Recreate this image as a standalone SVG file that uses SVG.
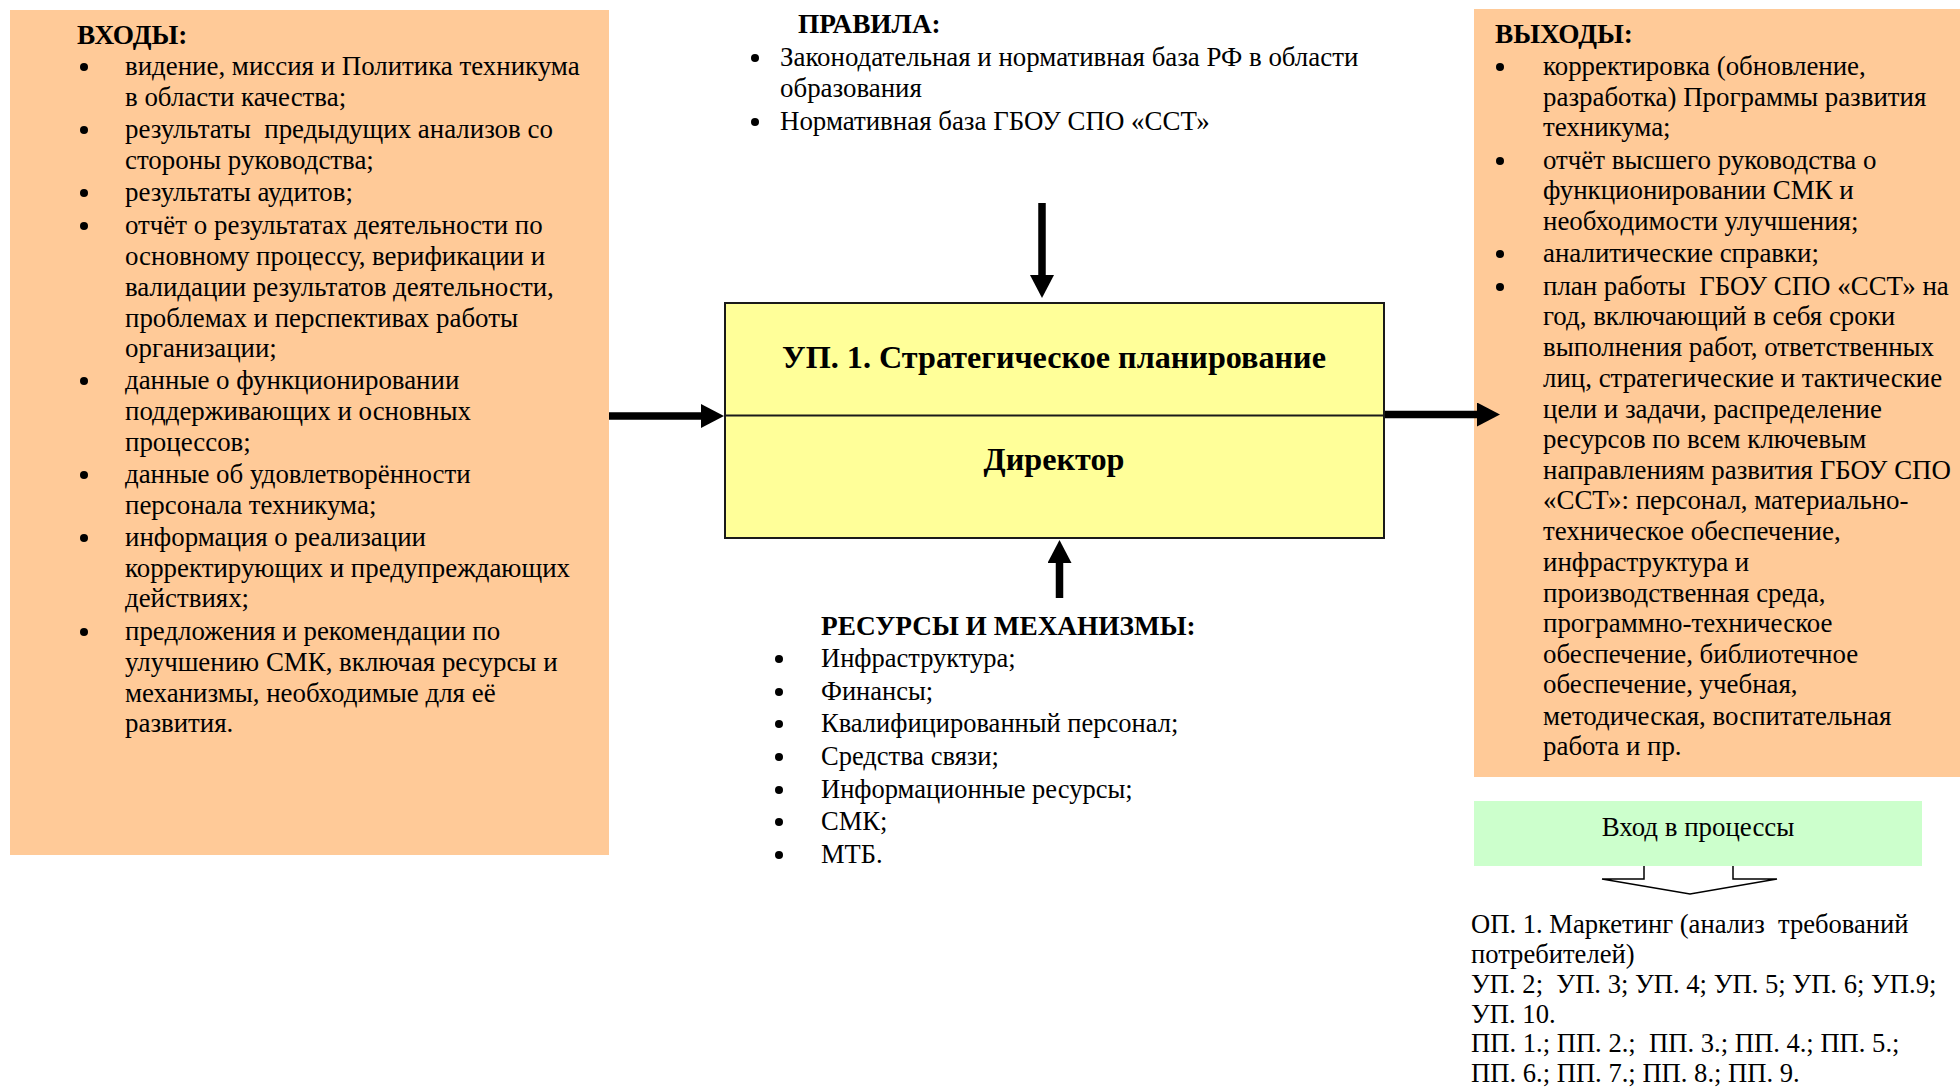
<svg xmlns="http://www.w3.org/2000/svg" width="1960" height="1087" viewBox="0 0 1960 1087">
  <style>
    text { font-family: "Liberation Serif", "Times New Roman", serif; font-size: 26.9px; fill: #000; white-space: pre; }
    .hdr { font-weight: bold; font-size: 27.3px; }
    .title { font-weight: bold; font-size: 32.2px; text-anchor: middle; }
    .res { font-size: 26.5px; }
    .tgt { font-size: 26.6px; }
    .peach { fill: #FFCA98; }
    .proc { fill: #FFFF99; stroke: #1a1a1a; stroke-width: 2; }
    .entry { fill: #CCFFCC; }
    .bullet { fill: #000; }
    .flow { stroke: #000; stroke-width: 7.5; fill: none; marker-end: url(#head); }
    .outline { stroke: #000; stroke-width: 1.5; fill: #fff; }
  </style>
  <defs>
    <marker id="head" markerUnits="userSpaceOnUse" markerWidth="24" markerHeight="24" refX="1" refY="12" orient="auto">
      <path d="M0,0 L23,12 L0,24 Z" fill="#000"/>
    </marker>
  </defs>

  <!-- Inputs -->
  <g id="inputs">
    <rect class="peach" x="10" y="10" width="599" height="845"/>
    <text class="hdr" x="77" y="44">ВХОДЫ:</text>
    <g>
      <circle class="bullet" cx="84" cy="67" r="4"/>
      <circle class="bullet" cx="84" cy="130" r="4"/>
      <circle class="bullet" cx="84" cy="193" r="4"/>
      <circle class="bullet" cx="84" cy="226" r="4"/>
      <circle class="bullet" cx="84" cy="381" r="4"/>
      <circle class="bullet" cx="84" cy="475" r="4"/>
      <circle class="bullet" cx="84" cy="538" r="4"/>
      <circle class="bullet" cx="84" cy="632" r="4"/>
    </g>
    <text x="125" y="75">видение, миссия и Политика техникума</text>
    <text x="125" y="106">в области качества;</text>
    <text x="125" y="138">результаты  предыдущих анализов со</text>
    <text x="125" y="169">стороны руководства;</text>
    <text x="125" y="201">результаты аудитов;</text>
    <text x="125" y="234">отчёт о результатах деятельности по</text>
    <text x="125" y="265">основному процессу, верификации и</text>
    <text x="125" y="296">валидации результатов деятельности,</text>
    <text x="125" y="327">проблемах и перспективах работы</text>
    <text x="125" y="357">организации;</text>
    <text x="125" y="389">данные о функционировании</text>
    <text x="125" y="420">поддерживающих и основных</text>
    <text x="125" y="451">процессов;</text>
    <text x="125" y="483">данные об удовлетворённости</text>
    <text x="125" y="514">персонала техникума;</text>
    <text x="125" y="546">информация о реализации</text>
    <text x="125" y="577">корректирующих и предупреждающих</text>
    <text x="125" y="607">действиях;</text>
    <text x="125" y="640">предложения и рекомендации по</text>
    <text x="125" y="671">улучшению СМК, включая ресурсы и</text>
    <text x="125" y="702">механизмы, необходимые для её</text>
    <text x="125" y="732">развития.</text>
  </g>

  <!-- Rules -->
  <g id="rules">
    <text class="hdr" x="798" y="33">ПРАВИЛА:</text>
    <circle class="bullet" cx="755" cy="58" r="4"/>
    <circle class="bullet" cx="755" cy="122" r="4"/>
    <text x="780" y="66">Законодательная и нормативная база РФ в области</text>
    <text x="780" y="97">образования</text>
    <text x="780" y="130">Нормативная база ГБОУ СПО «ССТ»</text>
  </g>

  <!-- Process -->
  <g id="process">
    <rect class="proc" x="725" y="303" width="659" height="235"/>
    <line x1="725" y1="415.5" x2="1384" y2="415.5" stroke="#1a1a1a" stroke-width="2"/>
    <text class="title" x="1054" y="368">УП. 1. Стратегическое планирование</text>
    <text class="title" x="1054" y="470">Директор</text>
  </g>

  <!-- Resources and mechanisms -->
  <g id="resources">
    <text class="hdr" x="821" y="635">РЕСУРСЫ И МЕХАНИЗМЫ:</text>
    <circle class="bullet" cx="779" cy="659" r="4"/>
    <circle class="bullet" cx="779" cy="692" r="4"/>
    <circle class="bullet" cx="779" cy="724" r="4"/>
    <circle class="bullet" cx="779" cy="757" r="4"/>
    <circle class="bullet" cx="779" cy="790" r="4"/>
    <circle class="bullet" cx="779" cy="822" r="4"/>
    <circle class="bullet" cx="779" cy="855" r="4"/>
    <text class="res" x="821" y="667">Инфраструктура;</text>
    <text class="res" x="821" y="700">Финансы;</text>
    <text class="res" x="821" y="732">Квалифицированный персонал;</text>
    <text class="res" x="821" y="765">Средства связи;</text>
    <text class="res" x="821" y="798">Информационные ресурсы;</text>
    <text class="res" x="821" y="830">СМК;</text>
    <text class="res" x="821" y="863">МТБ.</text>
  </g>

  <!-- Outputs -->
  <g id="outputs">
    <rect class="peach" x="1474" y="9" width="486" height="768"/>
    <text class="hdr" x="1495" y="43">ВЫХОДЫ:</text>
    <circle class="bullet" cx="1500" cy="67" r="4"/>
    <circle class="bullet" cx="1500" cy="161" r="4"/>
    <circle class="bullet" cx="1500" cy="254" r="4"/>
    <circle class="bullet" cx="1500" cy="287" r="4"/>
    <text x="1543" y="75">корректировка (обновление,</text>
    <text x="1543" y="106">разработка) Программы развития</text>
    <text x="1543" y="136">техникума;</text>
    <text x="1543" y="169">отчёт высшего руководства о</text>
    <text x="1543" y="199">функционировании СМК и</text>
    <text x="1543" y="230">необходимости улучшения;</text>
    <text x="1543" y="262">аналитические справки;</text>
    <text x="1543" y="295">план работы  ГБОУ СПО «ССТ» на</text>
    <text x="1543" y="325">год, включающий в себя сроки</text>
    <text x="1543" y="356">выполнения работ, ответственных</text>
    <text x="1543" y="387">лиц, стратегические и тактические</text>
    <text x="1543" y="418">цели и задачи, распределение</text>
    <text x="1543" y="448">ресурсов по всем ключевым</text>
    <text x="1543" y="479">направлениям развития ГБОУ СПО</text>
    <text x="1543" y="509">«ССТ»: персонал, материально-</text>
    <text x="1543" y="540">техническое обеспечение,</text>
    <text x="1543" y="571">инфраструктура и</text>
    <text x="1543" y="602">производственная среда,</text>
    <text x="1543" y="632">программно-техническое</text>
    <text x="1543" y="663">обеспечение, библиотечное</text>
    <text x="1543" y="693">обеспечение, учебная,</text>
    <text x="1543" y="725">методическая, воспитательная</text>
    <text x="1543" y="755">работа и пр.</text>
  </g>

  <!-- Entry into processes -->
  <g id="entry">
    <rect class="entry" x="1474" y="801" width="448" height="65"/>
    <text x="1698" y="836" text-anchor="middle" font-size="25.7">Вход в процессы</text>
  </g>

  <!-- Target processes -->
  <g id="targets">
    <text class="tgt" x="1471" y="933">ОП. 1. Маркетинг (анализ  требований</text>
    <text class="tgt" x="1471" y="963">потребителей)</text>
    <text class="tgt" x="1471" y="993">УП. 2;  УП. 3; УП. 4; УП. 5; УП. 6; УП.9;</text>
    <text class="tgt" x="1471" y="1023">УП. 10.</text>
    <text class="tgt" x="1471" y="1052">ПП. 1.; ПП. 2.;  ПП. 3.; ПП. 4.; ПП. 5.;</text>
    <text class="tgt" x="1471" y="1082">ПП. 6.; ПП. 7.; ПП. 8.; ПП. 9.</text>
  </g>

  <!-- Connectors -->
  <g id="connectors">
    <line class="flow" x1="609" y1="416" x2="702" y2="416"/>
    <line class="flow" x1="1385" y1="414.5" x2="1478" y2="414.5"/>
    <line class="flow" x1="1042" y1="203" x2="1042" y2="276"/>
    <line class="flow" x1="1059.5" y1="598" x2="1059.5" y2="562"/>
    <path class="outline" d="M1644,866 V879 H1602 L1690,894 L1777,879 H1733 V866"/>
  </g>
</svg>
